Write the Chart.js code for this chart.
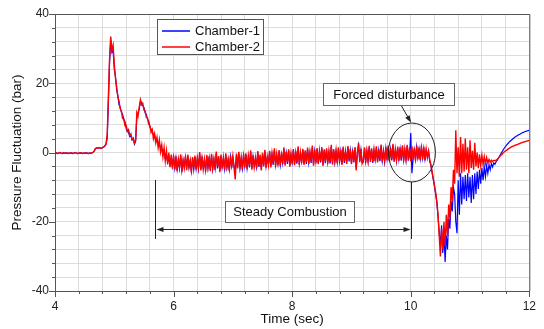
<!DOCTYPE html>
<html>
<head>
<meta charset="utf-8">
<script src="https://cdn.jsdelivr.net/npm/chart.js@4"></script>
<style>
  html, body { margin: 0; padding: 0; background: #fff; }
</style>
</head>
<body>
<canvas id="chart" width="544" height="329"></canvas>
<script>
// time axis: samples every 0.02 s starting at 4 s
const t0 = 4, dt = 0.02;

// Chamber-2 (red)
const chamber2Start = [
  -0.2, -0.1, -0.3, -0.2, 0.0, -0.2, -0.3, -0.1, -0.2, -0.2,
  -0.1, -0.3, -0.2, -0.2, -0.1, -0.3, -0.2, 0.0, -0.2, -0.3,
  -0.2, -0.2, -0.1, -0.3, -0.2, -0.2, -0.1, -0.2, -0.3, -0.2,
  -0.2, -0.1, 0.0, 0.4, 1.1, 1.3, 1.2, 1.4, 1.3, 1.2,
  1.4, 1.6, 1.9, 2.4, 5.0, 16.0, 27.0, 33.5, 29.5, 31.0,
  25.5, 21.5, 19.0, 16.0, 14.8, 12.6, 12.0, 9.8, 9.6, 7.8,
  7.9, 6.2, 6.6, 5.0, 5.4, 3.8, 4.2, 2.8, 3.6, 11.5,
  10.5, 13.0, 15.2, 13.8, 14.2, 12.3, 12.0, 10.2, 10.0, 8.2,
  7.8, 5.8, 6.6, 4.0, 5.4, 2.8, 4.4, 1.4, 3.6, 0.2,
  2.2, -1.2, 1.4, -2.5, 0.5, -3.4, 0.0, -4.2, -0.6, -4.6
];
const chamber2Steady1 = [
  -0.8, -4.9, -1.2, -5.3, -1.9, -4.2, -0.5, -5.6, -2.1, -4.4,
  -1.0, -5.1, -0.6, -4.0, -2.2, -5.8, -1.3, -4.6, -0.9, -5.0,
  -1.6, -4.3, 0.1, -5.2, -1.1, -4.8, -2.0, -5.5, -0.7, -4.1,
  -1.2, -5.4, -0.4, -4.5, -1.8, -5.0, 0.3, -4.2, -1.0, -5.7,
  -0.6, -4.6, -1.5, -5.1, -0.2, -4.0, -1.9, -5.3, -0.8, -4.4,
  -1.1, -4.5, -7.8, -0.3, -4.6, 0.2, -4.1, -1.4, -5.0, -0.5,
  -4.3, -0.2, -4.8, -1.0, -3.9, 0.6, -5.0, -0.8, -4.2, -1.5,
  -4.6, 0.4, -3.8, -0.6, -5.2, -0.1, -4.0, 0.8, -4.4, -1.2,
  -3.6, 0.5, -4.3, -0.3, -3.2, 1.2, -4.0, -0.5, -3.7, 0.7,
  -3.9, -0.1, -3.4, 1.5, -3.8, 0.2, -2.9, 0.9, -4.1, -0.3
];
const chamber2Steady2 = [
  -3.3, 1.0, -3.7, 0.4, -2.8, 1.8, -3.5, 0.0, -3.0, 1.1,
  -3.6, 0.6, -2.9, 1.4, -3.3, 0.2, -2.6, 2.0, -3.8, 0.8,
  -3.0, 1.3, -3.4, 0.5, -2.5, 1.6, -3.9, 0.9, -2.7, 1.2,
  -3.2, 0.4, -2.8, 2.2, -3.5, 1.0, -2.4, 0.6, -3.1, 1.5,
  -2.9, 0.8, -3.6, 1.7, -2.6, 0.3, -3.3, 1.9, -2.2, 1.0,
  -3.4, 0.7, -2.5, 1.6, -5.2, 0.2, 2.8, -2.8, 1.1, -3.2,
  -2.4, 1.5, -3.0, 0.6, -2.2, 1.9, -2.7, 1.2, -2.6, 0.8,
  -2.5, 1.8, -2.9, 1.0, -2.1, 2.3, -2.8, 0.5, -2.3, 1.6,
  -2.2, 2.0, -2.6, 1.3, -1.9, 2.5, -2.7, 0.9, -2.0, 1.7,
  -2.4, 1.4, -2.0, 2.1, -2.6, 1.0, -1.8, 2.2, -2.3, 1.5
];
const chamber2End = [
  -2.5, 1.8, -2.1, 1.2, -2.4, 2.0, -1.9, 1.4, -2.2, 1.9,
  -2.0, 1.6, -2.3, 1.0, -1.5, 0.5, -2.0, -3.5, -5.5, -7.5,
  -9.5, -11.5, -14.0, -18.0, -24.0, -30.0, -22.0, -28.0, -20.0, -27.0,
  -18.0, -24.0, -15.0, -19.0, -10.0, -14.0, -5.0, -9.0, 6.4, -6.0,
  1.5, -7.0, 4.5, -6.0, 2.5, -5.5, 4.0, -5.0, 1.5, -6.0,
  3.5, -4.5, 0.5, -5.0, 2.8, -4.0, 0.0, -4.5, -0.5, -3.8,
  -0.8, -3.5, -1.2, -3.2, -1.5, -3.0, -2.0, -2.8, -2.2, -2.6,
  -2.3, -2.3, -2.2, -2.0, -1.6, -1.2, -0.8, -0.5, -0.1, 0.2,
  0.5, 0.7, 1.0, 1.2, 1.4, 1.6, 1.8, 1.9, 2.1, 2.2,
  2.3, 2.5, 2.6, 2.8, 2.9, 3.0, 3.1, 3.2, 3.3, 3.4,
  3.5
];

// Chamber-1 (blue)
const chamber1Start = [
  -0.2, -0.1, -0.3, -0.2, 0.0, -0.2, -0.3, -0.1, -0.2, -0.2,
  -0.1, -0.3, -0.2, -0.2, -0.1, -0.3, -0.2, 0.0, -0.2, -0.3,
  -0.2, -0.2, -0.1, -0.3, -0.2, -0.2, -0.1, -0.2, -0.3, -0.2,
  -0.2, -0.1, 0.0, 0.4, 1.1, 1.3, 1.2, 1.4, 1.3, 1.2,
  1.4, 1.6, 1.9, 2.4, 4.0, 14.0, 26.0, 32.5, 29.0, 29.5,
  24.0, 22.0, 18.0, 16.5, 13.8, 13.0, 11.6, 11.0, 9.6, 9.0,
  7.0, 6.0, 5.9, 4.6, 4.8, 3.6, 4.0, 2.4, 3.2, 10.0,
  11.5, 12.5, 14.5, 14.6, 13.5, 13.0, 11.5, 11.0, 9.6, 9.0,
  7.4, 6.8, 6.0, 5.2, 4.8, 3.6, 3.8, 2.4, 2.6, 1.2,
  1.2, -0.6, 0.4, -1.8, -0.6, -2.8, -1.4, -3.6, -1.8, -4.0
];
const chamber1Steady1 = [
  -1.3, -4.5, -1.6, -4.9, -2.2, -4.6, -1.0, -5.2, -2.4, -4.1,
  -1.4, -4.7, -1.0, -4.4, -2.5, -5.4, -1.7, -4.9, -1.3, -4.6,
  -1.9, -4.7, -0.4, -4.8, -1.5, -4.4, -2.3, -5.1, -1.1, -4.5,
  -1.6, -5.0, -0.8, -4.9, -2.1, -4.6, -0.2, -4.6, -1.4, -5.3,
  -1.0, -4.2, -1.8, -4.7, -0.7, -4.4, -2.2, -4.9, -1.2, -4.0,
  -1.5, -4.1, -5.0, -0.8, -4.2, -0.3, -4.5, -1.8, -4.6, -0.9,
  -3.9, -0.6, -4.4, -1.4, -4.3, 0.1, -4.6, -1.2, -3.8, -1.9,
  -4.2, 0.0, -4.2, -1.0, -4.8, -0.5, -3.6, 0.3, -4.0, -1.6,
  -3.2, 0.1, -3.9, -0.7, -3.6, 0.7, -3.6, -0.9, -3.3, 0.3,
  -3.5, -0.5, -3.0, 1.0, -3.4, -0.2, -3.3, 0.5, -3.7, -0.7
];
const chamber1Steady2 = [
  -2.9, 0.6, -3.3, 0.0, -3.2, 1.3, -3.1, -0.4, -2.6, 0.7,
  -3.2, 0.2, -3.3, 1.0, -2.9, -0.2, -3.0, 1.5, -3.4, 0.4,
  -2.6, 0.9, -3.0, 0.1, -2.9, 1.2, -3.5, 0.5, -3.1, 0.8,
  -2.8, 0.0, -3.2, 1.7, -3.1, 0.6, -2.8, 0.2, -2.7, 1.1,
  -2.5, 0.4, -3.2, 1.3, -3.0, -0.1, -2.9, 1.5, -2.6, 0.6,
  -3.0, 0.3, -2.9, 1.2, -4.6, -0.2, 2.0, -2.4, 0.7, -2.8,
  -2.8, 1.1, -2.6, 0.2, -2.6, 1.5, -2.3, 0.8, -3.0, 0.4,
  -2.1, 1.4, -2.5, 0.6, -2.5, 1.9, -2.4, 0.1, -2.7, 1.2,
  -1.8, 1.6, -2.2, 0.9, -2.3, 2.1, -2.3, 0.5, -2.4, 1.3,
  -2.0, 1.0, -2.4, 1.7, -2.2, 0.6, -2.2, 1.8, -1.9, -1.0
];
const chamber1End = [
  5.6, -6.0, -1.7, 0.8, -2.0, 1.6, -1.5, 1.0, -1.8, 1.5,
  -1.6, 1.2, -1.9, 0.6, -1.2, 0.2, -2.5, -3.8, -5.8, -7.8,
  -9.8, -12.0, -14.5, -18.5, -23.0, -27.0, -21.0, -29.0, -23.0, -31.6,
  -24.0, -28.0, -19.0, -22.0, -14.0, -17.0, -10.0, -12.0, -20.0, -23.3,
  -8.0, -18.0, -6.0, -15.0, -7.0, -13.5, -6.5, -14.0, -6.0, -13.0,
  -7.0, -14.6, -6.5, -13.5, -6.0, -12.0, -5.5, -10.5, -5.0, -9.0,
  -4.5, -8.0, -4.2, -7.0, -3.8, -6.0, -3.5, -5.0, -3.2, -4.2,
  -3.0, -3.4, -2.6, -2.2, -1.6, -1.0, -0.4, 0.2, 0.8, 1.3,
  1.8, 2.2, 2.6, 3.0, 3.3, 3.6, 3.9, 4.2, 4.5, 4.7,
  4.9, 5.1, 5.3, 5.5, 5.7, 5.8, 6.0, 6.1, 6.2, 6.3,
  6.4
];

const xTicks = [4, 6, 8, 10, 12];
const yTicks = [-40, -20, 0, 20, 40];

function toPoints(...parts) {
  const vals = [].concat(...parts);
  return vals.map((v, i) => ({ x: +(t0 + i * dt).toFixed(2), y: v }));
}

const FONT = '"Liberation Sans", Arial, sans-serif';

function arrowHead(ctx, x, y, ang) {
  const len = 7, w = 2.6;
  ctx.beginPath();
  ctx.moveTo(x, y);
  ctx.lineTo(x - len * Math.cos(ang) + w * Math.sin(ang), y - len * Math.sin(ang) - w * Math.cos(ang));
  ctx.lineTo(x - len * Math.cos(ang) - w * Math.sin(ang), y - len * Math.sin(ang) + w * Math.cos(ang));
  ctx.closePath();
  ctx.fill();
}

function textBox(ctx, x, y, w, h, text) {
  ctx.fillStyle = '#fff';
  ctx.fillRect(x, y, w, h);
  ctx.strokeStyle = '#666';
  ctx.strokeRect(x + 0.5, y + 0.5, w, h);
  ctx.fillStyle = '#111';
  ctx.textAlign = 'center';
  ctx.textBaseline = 'middle';
  ctx.fillText(text, x + w / 2 + 0.5, y + h / 2 + 1);
}

const decor = {
  id: 'decor',
  afterDatasetsDraw(chart) {
    const { ctx, chartArea: a, scales: { x, y } } = chart;
    ctx.save();
    ctx.lineWidth = 1;

    // frame (top and right)
    ctx.strokeStyle = '#555';
    ctx.beginPath();
    ctx.moveTo(a.left, a.top + 0.5);
    ctx.lineTo(a.right + 0.5, a.top + 0.5);
    ctx.lineTo(a.right + 0.5, a.bottom);
    ctx.stroke();

    // tick marks
    ctx.beginPath();
    x.ticks.forEach(t => {
      const p = Math.round(x.getPixelForValue(t.value)) + 0.5;
      const major = xTicks.some(v => Math.abs(v - t.value) < 1e-6);
      ctx.moveTo(p, a.bottom);
      ctx.lineTo(p, a.bottom + (major ? 6 : 3));
    });
    y.ticks.forEach(t => {
      const p = Math.round(y.getPixelForValue(t.value)) + 0.5;
      const major = yTicks.some(v => Math.abs(v - t.value) < 1e-6);
      ctx.moveTo(a.left, p);
      ctx.lineTo(a.left - (major ? 6 : 3), p);
    });
    ctx.stroke();

    ctx.font = '13px ' + FONT;

    // legend
    ctx.fillStyle = '#fff';
    ctx.fillRect(157, 19, 106, 35);
    ctx.strokeStyle = '#555';
    ctx.strokeRect(157.5, 19.5, 106, 35);
    ctx.lineWidth = 1.5;
    ctx.strokeStyle = '#0000ff';
    ctx.beginPath(); ctx.moveTo(162, 31); ctx.lineTo(190, 31); ctx.stroke();
    ctx.strokeStyle = '#ff0000';
    ctx.beginPath(); ctx.moveTo(162, 47); ctx.lineTo(190, 47); ctx.stroke();
    ctx.lineWidth = 1;
    ctx.fillStyle = '#111';
    ctx.textAlign = 'left';
    ctx.textBaseline = 'middle';
    ctx.fillText('Chamber-1', 195, 31.5);
    ctx.fillText('Chamber-2', 195, 47.5);

    // forced disturbance annotation
    const cx = x.getPixelForValue(10.02), cy = y.getPixelForValue(0);
    ctx.strokeStyle = '#222';
    ctx.beginPath();
    ctx.ellipse(cx, cy, 23.5, 29.5, 0, 0, Math.PI * 2);
    ctx.stroke();
    textBox(ctx, 323, 83, 131, 22, 'Forced disturbance');
    ctx.strokeStyle = '#222';
    ctx.fillStyle = '#222';
    ctx.beginPath(); ctx.moveTo(401.5, 106); ctx.lineTo(410.5, 121.5); ctx.stroke();
    arrowHead(ctx, 411, 122.5, Math.atan2(16, 9.5));

    // steady combustion span
    const xl = Math.round(x.getPixelForValue(5.68)) + 0.5;
    const xr = Math.round(x.getPixelForValue(10)) + 0.5;
    const ya = 229.5;
    ctx.strokeStyle = '#222';
    ctx.beginPath();
    ctx.moveTo(xl, 180); ctx.lineTo(xl, 239);
    ctx.moveTo(xr, cy + 29.5); ctx.lineTo(xr, 239);
    ctx.moveTo(xl + 2, ya); ctx.lineTo(xr - 2, ya);
    ctx.stroke();
    ctx.fillStyle = '#222';
    arrowHead(ctx, xl + 1, ya, Math.PI);
    arrowHead(ctx, xr - 1, ya, 0);
    textBox(ctx, 225, 201, 129, 21, 'Steady Combustion');

    ctx.restore();
  }
};

new Chart(document.getElementById('chart'), {
  type: 'line',
  data: {
    datasets: [
      {
        label: 'Chamber-1',
        data: toPoints(chamber1Start, chamber1Steady1, chamber1Steady2, chamber1End),
        borderColor: '#0000ff',
        borderWidth: 1.2,
        pointRadius: 0,
        tension: 0,
        order: 1
      },
      {
        label: 'Chamber-2',
        data: toPoints(chamber2Start, chamber2Steady1, chamber2Steady2, chamber2End),
        borderColor: '#ff0000',
        borderWidth: 1.4,
        pointRadius: 0,
        tension: 0,
        order: 0
      }
    ]
  },
  options: {
    responsive: false,
    animation: false,
    devicePixelRatio: 1,
    layout: { padding: { top: 14, right: 13, left: 0, bottom: 0 } },
    plugins: { legend: { display: false }, tooltip: { enabled: false } },
    scales: {
      x: {
        type: 'linear',
        min: 4,
        max: 12,
        afterFit(s) { s.height = 38; },
        grid: { color: '#dcdcdc', drawTicks: false },
        border: { color: '#555' },
        ticks: {
          stepSize: 0.4,
          autoSkip: false,
          maxRotation: 0,
          padding: 8,
          color: '#222',
          font: { family: FONT, size: 12 },
          callback: v => xTicks.find(t => Math.abs(t - v) < 1e-6) ?? ''
        },
        title: {
          display: true,
          text: 'Time (sec)',
          color: '#111',
          font: { family: FONT, size: 13.5 },
          padding: { top: 0, bottom: 2 }
        }
      },
      y: {
        min: -40,
        max: 40,
        afterFit(s) { s.width = 55; },
        grid: { color: '#dcdcdc', drawTicks: false },
        border: { color: '#555' },
        ticks: {
          stepSize: 4,
          autoSkip: false,
          padding: 6,
          color: '#222',
          font: { family: FONT, size: 12 },
          callback: v => yTicks.find(t => Math.abs(t - v) < 1e-6) ?? ''
        },
        title: {
          display: true,
          text: 'Pressure Fluctuation (bar)',
          color: '#111',
          font: { family: FONT, size: 13.5 },
          padding: { top: 9, bottom: 0 }
        }
      }
    }
  },
  plugins: [decor]
});
</script>
</body>
</html>
